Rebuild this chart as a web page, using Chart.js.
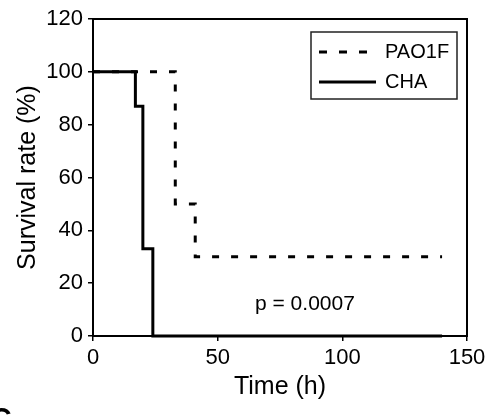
<!DOCTYPE html>
<html>
<head>
<meta charset="utf-8">
<script src="https://cdn.jsdelivr.net/npm/chart.js@4"></script>
<style>
  html, body { margin: 0; padding: 0; background: #fff; }
  #wrap { width: 493px; height: 415px; }
</style>
</head>
<body>
<div id="wrap"><canvas id="survivalChart" width="493" height="415"></canvas></div>
<script>
// Kaplan-Meier style survival data
const seriesNames = ['PAO1F', 'CHA'];
const timePAO1F = [0, 33, 41, 140];
const survPAO1F = [100, 50, 30, 30];
const timeCHA = [0, 17, 20, 24, 140];
const survCHA = [100, 87, 33, 0, 0];
const xTicks = [0, 50, 100, 150];
const yTicks = [0, 20, 40, 60, 80, 100, 120];
const pText = 'p = 0.0007';

const FONT = '"Liberation Sans", Arial, sans-serif';

function toPoints(xs, ys) {
   return xs.map((x, i) => ({ x: x, y: ys[i] }));
}

// Frame around plot, legend box, p-value and stray panel letter
const extras = {
   id: 'extras',
   afterDraw(chart) {
      const ctx = chart.ctx;
      const a = chart.chartArea;
      ctx.save();
      ctx.strokeStyle = '#000';
      ctx.lineWidth = 2;
      ctx.strokeRect(a.left, a.top, a.right - a.left, a.bottom - a.top);

      // legend
      const bx = 311, by = 32, bw = 146, bh = 67;
      ctx.lineWidth = 1.5;
      ctx.strokeStyle = '#222';
      ctx.strokeRect(bx, by, bw, bh);
      ctx.font = '20px ' + FONT;
      ctx.fillStyle = '#000';
      ctx.textBaseline = 'middle';
      chart.data.datasets.forEach((ds, i) => {
         const y = by + 20 + i * 30;
         const dashed = ds.borderDash && ds.borderDash.length;
         ctx.beginPath();
         ctx.setLineDash(dashed ? [8, 12] : []);
         ctx.lineWidth = 3;
         ctx.strokeStyle = '#000';
         ctx.moveTo(bx + 8, y);
         ctx.lineTo(bx + (dashed ? 60 : 65), y);
         ctx.stroke();
         ctx.setLineDash([]);
         ctx.fillText(ds.label, bx + 74, y);
      });

      // p value
      ctx.font = '21px ' + FONT;
      ctx.textBaseline = 'middle';
      ctx.fillText(pText, 255, 304);

      // partial panel letter at bottom-left
      ctx.font = 'bold 30px ' + FONT;
      ctx.textBaseline = 'top';
      ctx.fillText('C', -10, 405);
      ctx.restore();
   }
};

window.onload = () => {
   const ctx = document.getElementById('survivalChart').getContext('2d');
   new Chart(ctx, {
      type: 'scatter',
      data: {
         datasets: [{
            label: seriesNames[0],
            data: toPoints(timePAO1F, survPAO1F),
            showLine: true,
            stepped: 'before',
            borderColor: '#000',
            borderWidth: 3,
            borderDash: [7, 12],
            pointRadius: 0,
            clip: false
         }, {
            label: seriesNames[1],
            data: toPoints(timeCHA, survCHA),
            showLine: true,
            stepped: 'before',
            borderColor: '#000',
            borderWidth: 3,
            pointRadius: 0,
            clip: false
         }]
      },
      options: {
         responsive: false,
         animation: false,
         layout: { padding: { top: 19, right: 26, left: 0, bottom: 0 } },
         plugins: {
            legend: { display: false },
            tooltip: { enabled: false }
         },
         scales: {
            x: {
               type: 'linear',
               min: 0,
               max: 150,
               afterFit: (s) => { s.height = 79; },
               afterBuildTicks: (s) => { s.ticks = xTicks.map(v => ({ value: v })); },
               border: { display: true, color: '#000', width: 2 },
               grid: { display: true, drawOnChartArea: false, drawTicks: true, tickLength: 5, color: '#000', lineWidth: 1.5 },
               ticks: { color: '#000', padding: 4, maxRotation: 0, font: { family: FONT, size: 22 } },
               title: { display: true, text: 'Time (h)', color: '#000', padding: { top: 0, bottom: 13 }, font: { family: FONT, size: 25 } }
            },
            y: {
               type: 'linear',
               min: 0,
               max: 120,
               afterFit: (s) => { s.width = 93; },
               afterBuildTicks: (s) => { s.ticks = yTicks.map(v => ({ value: v })); },
               border: { display: true, color: '#000', width: 2 },
               grid: { display: true, drawOnChartArea: false, drawTicks: true, tickLength: 5, color: '#000', lineWidth: 1.5 },
               ticks: { color: '#000', padding: 5, font: { family: FONT, size: 22 } },
               title: { display: true, text: 'Survival rate (%)', color: '#000', padding: { top: 13, bottom: 0 }, font: { family: FONT, size: 25 } }
            }
         }
      },
      plugins: [extras]
   });
};
</script>
</body>
</html>
